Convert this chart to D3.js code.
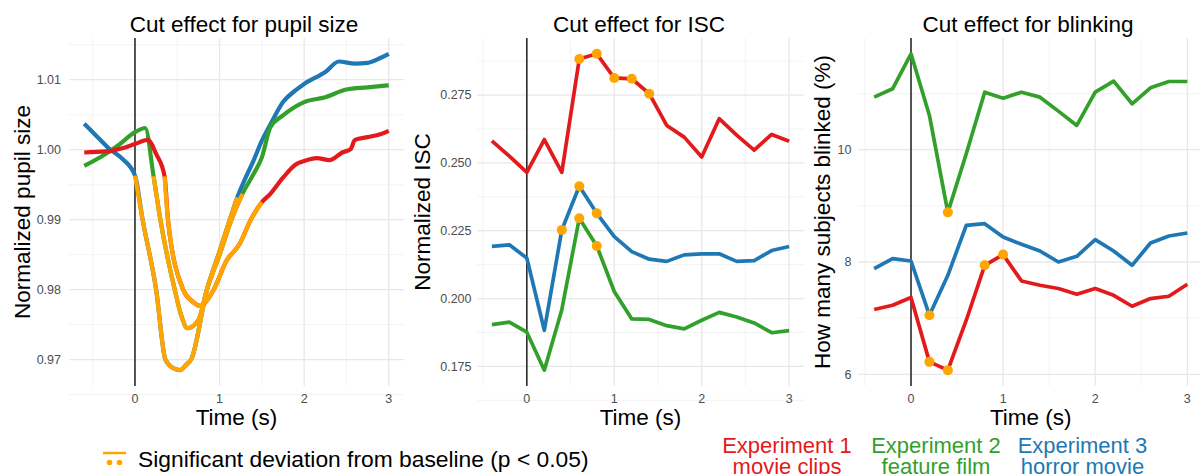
<!DOCTYPE html>
<html>
<head>
<meta charset="utf-8">
<script src="https://cdn.jsdelivr.net/npm/d3@7"></script>
<style>
  body { margin: 0; background: #fff; }
  svg { display: block; font-family: "Liberation Sans", Arial, sans-serif; }
</style>
</head>
<body>
<div id="chart"></div>
<script>
// colours of the three experiments + significance
var expColors = ["#e31a1c", "#33a02c", "#1f78b4"];
var sigColor = "#ffa500";
var expLabels = ["Experiment 1", "Experiment 2", "Experiment 3"];
var expSubLabels = ["movie clips", "feature film", "horror movie"];

// pupil size
var pupilTime1 = [-0.6, -0.45, -0.3, -0.15, 0, 0.15, 0.25, 0.35, 0.39, 0.57, 0.68, 0.77, 0.93, 1.08, 1.24, 1.36, 1.5, 1.6, 1.75, 1.9, 2.0, 2.15, 2.3, 2.45, 2.55, 2.6, 2.75, 2.9, 3.0];
var pupilValue1 = [0.9996, 0.9997, 0.9998, 1.0002, 1.0008, 1.0014, 0.9994, 0.9962, 0.9900, 0.9800, 0.9783, 0.9777, 0.9800, 0.9841, 0.9866, 0.9898, 0.9925, 0.9937, 0.9960, 0.9979, 0.9984, 0.9988, 0.9985, 0.9996, 1.0001, 1.0014, 1.0018, 1.0022, 1.0027];
var pupilSig1 = [0.35, 1.5];

var pupilTime2 = [-0.6, -0.4, -0.2, 0, 0.12, 0.22, 0.3, 0.47, 0.55, 0.62, 0.75, 0.85, 1.0, 1.14, 1.27, 1.4, 1.5, 1.6, 1.75, 2.0, 2.25, 2.5, 2.75, 3.0];
var pupilValue2 = [0.9977, 0.9990, 1.0006, 1.0025, 1.0031, 0.9962, 0.9900, 0.9800, 0.9762, 0.9745, 0.9757, 0.9800, 0.9850, 0.9900, 0.9937, 0.9965, 0.9989, 1.0032, 1.0049, 1.0068, 1.0075, 1.0086, 1.0089, 1.0092];
var pupilSig2 = [0.22, 1.27];

var pupilTime3 = [-0.6, -0.45, -0.3, -0.15, 0, 0.09, 0.25, 0.36, 0.45, 0.53, 0.6, 0.67, 0.85, 1.0, 1.12, 1.21, 1.3, 1.4, 1.5, 1.6, 1.75, 1.9, 2.0, 2.25, 2.41, 2.6, 2.75, 2.9, 3.0];
var pupilValue3 = [1.0037, 1.0019, 1.0001, 0.9987, 0.9963, 0.9900, 0.9800, 0.9700, 0.9688, 0.9685, 0.9692, 0.9702, 0.9800, 0.9855, 0.9900, 0.9932, 0.9958, 0.9984, 1.0013, 1.0036, 1.0068, 1.0085, 1.0094, 1.0111, 1.0126, 1.0123, 1.0124, 1.0131, 1.0137];
var pupilSig3 = [0, 1.21];

// ISC and blinking share one time grid
var binTime = [-0.4, -0.2, 0, 0.2, 0.4, 0.6, 0.8, 1.0, 1.2, 1.4, 1.6, 1.8, 2.0, 2.2, 2.4, 2.6, 2.8, 3.0];

var iscValue1 = [0.2581, 0.2525, 0.2465, 0.2586, 0.2465, 0.2883, 0.2902, 0.2813, 0.2810, 0.2755, 0.2638, 0.2595, 0.2522, 0.2663, 0.2602, 0.2547, 0.2605, 0.2580];
var iscValue2 = [0.1904, 0.1913, 0.1876, 0.1736, 0.1959, 0.2296, 0.2194, 0.2026, 0.1925, 0.1923, 0.1900, 0.1888, 0.1920, 0.1949, 0.1932, 0.1910, 0.1874, 0.1882];
var iscValue3 = [0.2192, 0.2198, 0.2149, 0.1883, 0.2253, 0.2414, 0.2314, 0.2228, 0.2173, 0.2145, 0.2137, 0.2161, 0.2165, 0.2165, 0.2137, 0.2140, 0.2177, 0.2192];
var iscSig1 = [0.6, 0.8, 1.0, 1.2, 1.4];
var iscSig2 = [0.6, 0.8];
var iscSig3 = [0.4, 0.6, 0.8];

var blinkValue1 = [7.153, 7.230, 7.367, 6.221, 6.073, 6.963, 7.941, 8.132, 7.662, 7.585, 7.527, 7.425, 7.527, 7.407, 7.212, 7.349, 7.390, 7.603];
var blinkValue2 = [10.936, 11.085, 11.708, 10.610, 8.884, 9.929, 11.025, 10.918, 11.025, 10.936, 10.687, 10.432, 11.025, 11.221, 10.818, 11.103, 11.215, 11.215];
var blinkValue3 = [7.883, 8.061, 8.018, 7.052, 7.763, 8.653, 8.683, 8.445, 8.315, 8.196, 8.000, 8.101, 8.399, 8.196, 7.941, 8.338, 8.463, 8.516];
var blinkSig1 = [0.2, 0.4, 0.8, 1.0];
var blinkSig2 = [0.4];
var blinkSig3 = [0.2];

var xTicks = [0, 1, 2, 3];
var xMinorTicks = [-0.5, 0.5, 1.5, 2.5];

var svgWidth = 1200;
var svgHeight = 474;
var plotTop = 38;
var plotBottom = 386;
var bigFont = "22.5px";

var svg = d3.select("#chart")
  .append("svg")
  .attr("width", svgWidth)
  .attr("height", svgHeight);

// ggplot style 5% expansion
function expand(ext) {
  var pad = (ext[1] - ext[0]) * 0.05;
  return [ext[0] - pad, ext[1] + pad];
}

function drawPanel(p) {
  var allT = [].concat.apply([], p.series.map(s => s.time));
  var allV = [].concat.apply([], p.series.map(s => s.value));

  var x = d3.scaleLinear().domain(expand(d3.extent(allT))).range([p.left, p.right]);
  var y = d3.scaleLinear().domain(expand(d3.extent(allV))).range([plotBottom, plotTop]);

  var g = svg.append("g");

  // minor grid
  g.selectAll(".ymin").data(p.yMinor).join("line")
    .attr("x1", p.left).attr("x2", p.right)
    .attr("y1", d => y(d)).attr("y2", d => y(d))
    .attr("stroke", "#f0f0f0").attr("stroke-width", 0.8);
  g.selectAll(".xmin").data(xMinorTicks).join("line")
    .attr("x1", d => x(d)).attr("x2", d => x(d))
    .attr("y1", plotTop).attr("y2", plotBottom)
    .attr("stroke", "#f0f0f0").attr("stroke-width", 0.8);

  // major grid
  g.selectAll(".ymaj").data(p.yTicks).join("line")
    .attr("x1", p.left).attr("x2", p.right)
    .attr("y1", d => y(d)).attr("y2", d => y(d))
    .attr("stroke", "#e8e8e8").attr("stroke-width", 1.3);
  g.selectAll(".xmaj").data(xTicks).join("line")
    .attr("x1", d => x(d)).attr("x2", d => x(d))
    .attr("y1", plotTop).attr("y2", plotBottom)
    .attr("stroke", "#e8e8e8").attr("stroke-width", 1.3);

  // tick labels
  g.selectAll(".ylab").data(p.yTicks).join("text")
    .attr("x", p.left - p.tickGap)
    .attr("y", d => y(d))
    .attr("dy", "0.35em")
    .attr("text-anchor", "end")
    .attr("font-size", "12.5px")
    .attr("fill", "#4d4d4d")
    .text(p.yFormat);
  g.selectAll(".xlab").data(xTicks).join("text")
    .attr("x", d => x(d))
    .attr("y", 403)
    .attr("text-anchor", "middle")
    .attr("font-size", "12.5px")
    .attr("fill", "#4d4d4d")
    .text(d => d);

  // cut marker
  g.append("line")
    .attr("x1", x(0)).attr("x2", x(0))
    .attr("y1", plotTop).attr("y2", plotBottom)
    .attr("stroke", "#000").attr("stroke-width", 1.3);

  var line = d3.line()
    .curve(p.curve)
    .x(d => x(d[0]))
    .y(d => y(d[1]));

  p.series.forEach(function(s) {
    var pts = s.time.map((t, i) => [t, s.value[i]]);
    g.append("path")
      .datum(pts)
      .attr("fill", "none")
      .attr("stroke", s.color)
      .attr("stroke-width", p.lineWidth)
      .attr("stroke-linejoin", "round")
      .attr("d", line);
  });

  // significant stretches / points on top
  p.series.forEach(function(s) {
    var pts = s.time.map((t, i) => [t, s.value[i]]);
    if (s.sigRange) {
      var part = pts.filter(d => d[0] >= s.sigRange[0] && d[0] <= s.sigRange[1]);
      g.append("path")
        .datum(part)
        .attr("fill", "none")
        .attr("stroke", sigColor)
        .attr("stroke-width", p.lineWidth)
        .attr("stroke-linejoin", "round")
        .attr("d", line);
    }
    if (s.sigPoints) {
      g.selectAll(null)
        .data(pts.filter(d => s.sigPoints.indexOf(d[0]) >= 0))
        .join("circle")
        .attr("cx", d => x(d[0]))
        .attr("cy", d => y(d[1]))
        .attr("r", 5)
        .attr("fill", sigColor);
    }
  });

  // titles
  g.append("text")
    .attr("x", p.titleX)
    .attr("y", 32)
    .attr("text-anchor", "middle")
    .attr("font-size", bigFont)
    .attr("fill", "#000")
    .text(p.title);

  g.append("text")
    .attr("x", (p.left + p.right) / 2)
    .attr("y", 425)
    .attr("text-anchor", "middle")
    .attr("font-size", bigFont)
    .attr("fill", "#000")
    .text("Time (s)");

  g.append("text")
    .attr("transform", `translate(${p.yTitleX}, ${(plotTop + plotBottom) / 2}) rotate(-90)`)
    .attr("text-anchor", "middle")
    .attr("font-size", bigFont)
    .attr("fill", "#000")
    .text(p.yTitle);
}

// left: pupil size
drawPanel({
  left: 69, right: 404, tickGap: 8,
  title: "Cut effect for pupil size", titleX: 244,
  yTitle: "Normalized pupil size", yTitleX: 30,
  yTicks: [0.97, 0.98, 0.99, 1.00, 1.01],
  yMinor: [0.965, 0.975, 0.985, 0.995, 1.005, 1.015],
  yFormat: d3.format(".2f"),
  lineWidth: 4.2,
  curve: d3.curveMonotoneX,
  series: [
    { time: pupilTime3, value: pupilValue3, color: expColors[2], sigRange: pupilSig3 },
    { time: pupilTime2, value: pupilValue2, color: expColors[1], sigRange: pupilSig2 },
    { time: pupilTime1, value: pupilValue1, color: expColors[0], sigRange: pupilSig1 }
  ]
});

// middle: ISC
drawPanel({
  left: 477, right: 804, tickGap: 5.5,
  title: "Cut effect for ISC", titleX: 639,
  yTitle: "Normalized ISC", yTitleX: 430,
  yTicks: [0.175, 0.200, 0.225, 0.250, 0.275],
  yMinor: [0.1625, 0.1875, 0.2125, 0.2375, 0.2625, 0.2875],
  yFormat: d3.format(".3f"),
  lineWidth: 3.7,
  curve: d3.curveLinear,
  series: [
    { time: binTime, value: iscValue1, color: expColors[0], sigPoints: iscSig1 },
    { time: binTime, value: iscValue3, color: expColors[2], sigPoints: iscSig3 },
    { time: binTime, value: iscValue2, color: expColors[1], sigPoints: iscSig2 }
  ]
});

// right: blinking
drawPanel({
  left: 858.5, right: 1203, tickGap: 7,
  title: "Cut effect for blinking", titleX: 1028,
  yTitle: "How many subjects blinked (%)", yTitleX: 830,
  yTicks: [6, 8, 10],
  yMinor: [7, 9, 11],
  yFormat: d => d,
  lineWidth: 3.7,
  curve: d3.curveLinear,
  series: [
    { time: binTime, value: blinkValue2, color: expColors[1], sigPoints: blinkSig2 },
    { time: binTime, value: blinkValue3, color: expColors[2], sigPoints: blinkSig3 },
    { time: binTime, value: blinkValue1, color: expColors[0], sigPoints: blinkSig1 }
  ]
});

// significance legend
var sigKey = svg.append("g");
sigKey.append("line")
  .attr("x1", 103).attr("x2", 126)
  .attr("y1", 453).attr("y2", 453)
  .attr("stroke", sigColor).attr("stroke-width", 2.5);
sigKey.selectAll("circle").data([109.5, 119.5]).join("circle")
  .attr("cx", d => d).attr("cy", 462.5).attr("r", 2.8)
  .attr("fill", sigColor);
sigKey.append("text")
  .attr("x", 138).attr("y", 467)
  .attr("font-size", "22.8px")
  .attr("fill", "#000")
  .text("Significant deviation from baseline (p < 0.05)");

// experiment legend
var expCenters = [787, 936, 1082.5];
var expKey = svg.append("g");
expLabels.forEach(function(lab, i) {
  var t = expKey.append("text")
    .attr("x", expCenters[i])
    .attr("text-anchor", "middle")
    .attr("font-size", "22px")
    .attr("fill", expColors[i]);
  t.append("tspan").attr("x", expCenters[i]).attr("y", 453).text(lab);
  t.append("tspan").attr("x", expCenters[i]).attr("y", 474).text(expSubLabels[i]);
});
</script>
</body>
</html>
